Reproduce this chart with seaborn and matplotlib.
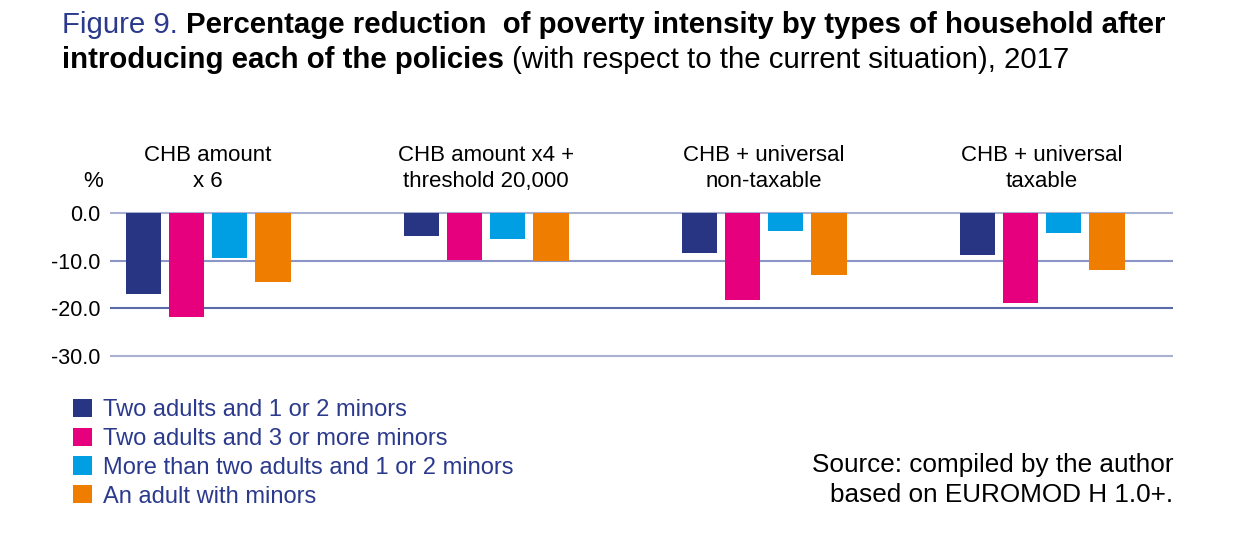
import matplotlib
matplotlib.use('Agg')
import matplotlib.pyplot as plt
import seaborn as sns
import pandas as pd
from matplotlib.ticker import FormatStrFormatter
from matplotlib.transforms import offset_copy

# data (percentage reduction, negative = reduction)
policies = [
    'CHB amount\nx 6',
    'CHB amount x4 +\nthreshold 20,000',
    'CHB + universal\nnon-taxable',
    'CHB + universal\ntaxable',
]
households = [
    'Two adults and 1 or 2 minors',
    'Two adults and 3 or more minors',
    'More than two adults and 1 or 2 minors',
    'An adult with minors',
]
two_adults_1_2 = [-17.0, -4.7, -8.3, -8.8]
two_adults_3_plus = [-21.9, -9.9, -18.3, -18.9]
more_adults_1_2 = [-9.4, -5.3, -3.6, -4.1]
single_adult = [-14.5, -10.1, -13.0, -12.0]
y_ticks = [0, -10, -20, -30]

colors = ['#283583', '#E6007E', '#009FE3', '#EF7D00']
grid_colors = ['#A9B1D2', '#8C96C6', '#5A69A8', '#A9B1D2']
navy_text = '#2B3A8C'

series = [two_adults_1_2, two_adults_3_plus, more_adults_1_2, single_adult]
rows = []
for hh, vals in zip(households, series):
    for pol, v in zip(policies, vals):
        rows.append({'policy': pol, 'household': hh, 'value': v})
df = pd.DataFrame(rows)

sns.set_style('white')
plt.rcParams['font.family'] = ['Liberation Sans', 'DejaVu Sans']
plt.rcParams['axes.unicode_minus'] = False

fig = plt.figure(figsize=(12.59, 5.44), dpi=100)
ax = fig.add_axes([0.0874, 0.3417, 0.8443, 0.2703])

sns.barplot(
    data=df, x='policy', y='value', hue='household',
    order=policies, hue_order=households, palette=colors,
    width=0.62, gap=0.17, saturation=1, ax=ax, legend=True,
    edgecolor='none', linewidth=0
)

ax.set_xlim(-0.3525, 3.471)
ax.set_ylim(-30.5, 0.5)
ax.set_yticks(y_ticks)
ax.yaxis.set_major_formatter(FormatStrFormatter('%.1f'))
ax.tick_params(axis='y', length=0, pad=7, labelsize=15.5, labelcolor='black')
ax.tick_params(axis='x', length=0, labelbottom=False)
ax.set_xlabel('')
ax.set_ylabel('')
for s in ax.spines.values():
    s.set_visible(False)
ax.grid(False)
for t, c in zip(y_ticks, grid_colors):
    ax.axhline(t, color=c, lw=1.5, zorder=0)

# group labels above the bars
lab_tr = offset_copy(ax.get_xaxis_transform(), fig=fig, y=14, units='points')
for i, pol in enumerate(policies):
    ax.text(i, 1.0, pol, transform=lab_tr, ha='center', va='bottom',
            fontsize=16, linespacing=1.3, color='black')
fig.text(103 / 1259, 1 - 187 / 544, '%', ha='right', va='baseline',
         fontsize=16, color='black')

# legend
handles, labels = ax.get_legend_handles_labels()
ax.legend(
    handles, labels, loc='upper left', bbox_to_anchor=(0.058, 0.267),
    bbox_transform=fig.transFigure, frameon=False, fontsize=17,
    labelcolor=navy_text, handlelength=0.8, handleheight=0.8,
    handletextpad=0.45, labelspacing=0.28, borderaxespad=0, borderpad=0
)

# source note
fig.text(0.9317, 0.1176, 'Source: compiled by the author\nbased on EUROMOD H 1.0+.',
         ha='right', va='center', fontsize=18.8, linespacing=1.31, color='black')

# title with mixed styles
fig.canvas.draw()
renderer = fig.canvas.get_renderer()


def rich_line(parts, x, y):
    for text, kw in parts:
        t = fig.text(x, y, text, va='baseline', fontsize=21.2, **kw)
        bb = t.get_window_extent(renderer)
        x = bb.x1 / fig.bbox.width


rich_line([
    ('Figure 9. ', dict(color=navy_text)),
    ('Percentage reduction  of poverty intensity by types of household after',
     dict(color='black', fontweight='bold')),
], 0.049, 0.939)
rich_line([
    ('introducing each of the policies ', dict(color='black', fontweight='bold')),
    ('(with respect to the current situation), 2017', dict(color='black')),
], 0.049, 0.875)

fig.savefig('out.png', dpi=100)
